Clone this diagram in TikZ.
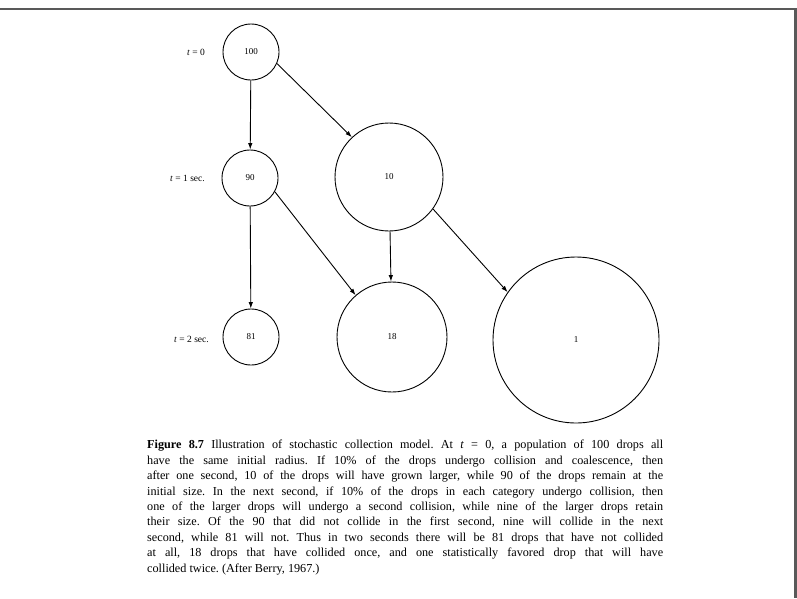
\documentclass[tikz,border=0pt]{standalone}
\usepackage{fontspec}
\setmainfont{Liberation Serif}
\usetikzlibrary{arrows.meta}
\begin{document}
\frenchspacing
\begin{tikzpicture}[x=1pt,y=-1pt,
  drop/.style={draw, circle, line width=0.9pt, inner sep=0pt, font=\fontsize{9}{10}\selectfont},
  arr/.style={line width=0.9pt, -{Latex[length=6.5pt,width=4.5pt]}},
  tlab/.style={anchor=east, inner sep=0pt, font=\fontsize{9.5}{11}\selectfont},
  frame/.style={line width=2.5pt, draw=black!65}]
\useasboundingbox (0,0) rectangle (797,598);
% scan frame
\draw[frame] (0,9) -- (795.5,9) -- (795.5,598);
% drops
\node[drop, minimum size=56pt] (c100) at (251,52) {100};
\node[drop, minimum size=56pt] (c90) at (250,178) {90};
\node[drop, minimum size=56pt] (c81) at (251,337) {81};
\node[drop, minimum size=108pt] (c10) at (389,177) {10};
\node[drop, minimum size=110pt] (c18) at (392,337) {18};
\node[drop, minimum size=166pt] (c1) at (576,340) {1};
% time labels
\node[tlab] (t0) at (205,52) {\textit{t} = 0};
\node[tlab] (t1) at (205,178) {\textit{t} = 1 sec.};
\node[tlab] (t2) at (209,339) {\textit{t} = 2 sec.};
% arrows
\draw[arr] (c100) -- (c90);
\draw[arr] (c90) -- (c81);
\draw[arr] (c10) -- (c18);
\draw[arr] (c100.-24) -- (c10.133);
\draw[arr] (c90.-29) -- (c18.131);
\draw[arr] (c10.-36) -- (c1.145);
% caption
\node[anchor=north west, inner sep=0pt, align=left,
      font=\fontsize{12.2}{15.4}\selectfont] (cap) at (147,440) {%
\makebox[516pt][s]{\textbf{Figure 8.7} Illustration of stochastic collection model. At \textit{t} = 0, a population of 100 drops all}\\
\makebox[516pt][s]{have the same initial radius. If 10\% of the drops undergo collision and coalescence, then}\\
\makebox[516pt][s]{after one second, 10 of the drops will have grown larger, while 90 of the drops remain at the}\\
\makebox[516pt][s]{initial size. In the next second, if 10\% of the drops in each category undergo collision, then}\\
\makebox[516pt][s]{one of the larger drops will undergo a second collision, while nine of the larger drops retain}\\
\makebox[516pt][s]{their size. Of the 90 that did not collide in the first second, nine will collide in the next}\\
\makebox[516pt][s]{second, while 81 will not. Thus in two seconds there will be 81 drops that have not collided}\\
\makebox[516pt][s]{at all, 18 drops that have collided once, and one statistically favored drop that will have}\\
collided twice. (After Berry, 1967.)};
\end{tikzpicture}
\end{document}
